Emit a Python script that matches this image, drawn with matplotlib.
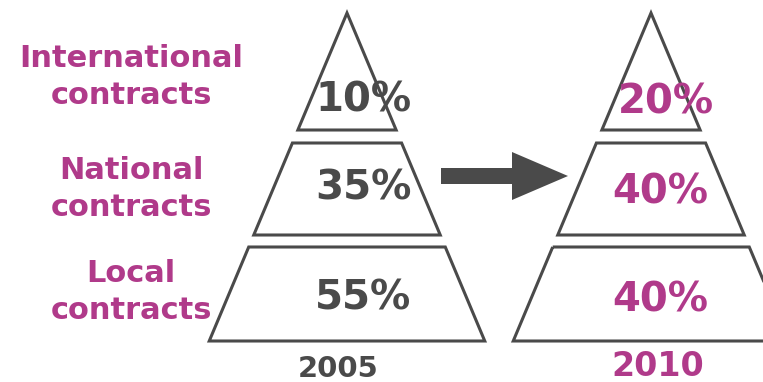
import matplotlib
matplotlib.use("Agg")
import matplotlib.pyplot as plt
from matplotlib.patches import Polygon

# data
categories = ["International\ncontracts", "National\ncontracts", "Local\ncontracts"]
years = ["2005", "2010"]
share_2005 = [10, 35, 55]
share_2010 = [20, 40, 40]

# layout (pixel coords, y down)
W, H = 763, 382
GREY = "#4a4a4a"
PINK = "#b03a8a"
apex_x = [347, 651]
apex_y = 13
slope = 0.42
tiers = [(13, 130), (143, 235), (247, 341)]
pct_dx = [[17, 16, 16], [15, 9, 9]]
pct_y = [[100, 188, 298], [103, 192, 301]]
label_y = [77, 189, 292]
year_y = [369, 367]


def draw_pyramid(ax, cx, values, dx, ys, color):
    for (y0, y1), v, ox, ty in zip(tiers, values, dx, ys):
        h0 = (y0 - apex_y) * slope
        h1 = (y1 - apex_y) * slope
        pts = [(cx - h0, y0), (cx + h0, y0), (cx + h1, y1), (cx - h1, y1)]
        ax.add_patch(Polygon(pts, closed=True, fill=False, edgecolor=GREY,
                             lw=2.2, joinstyle='miter'))
        ax.text(cx + ox, ty, f"{v}%", ha='center', va='center',
                fontsize=29, fontweight='bold', color=color)


fig = plt.figure(figsize=(W / 100, H / 100), dpi=100)
ax = fig.add_axes([0, 0, 1, 1])
ax.set_xlim(0, W)
ax.set_ylim(H, 0)
ax.axis('off')

draw_pyramid(ax, apex_x[0], share_2005, pct_dx[0], pct_y[0], GREY)
draw_pyramid(ax, apex_x[1], share_2010, pct_dx[1], pct_y[1], PINK)

for lab, y in zip(categories, label_y):
    ax.text(131, y, lab, ha='center', va='center', fontsize=22,
            fontweight='bold', color=PINK, linespacing=1.38)

ax.text(apex_x[0] - 9, year_y[0], years[0], ha='center', va='center',
        fontsize=21, fontweight='bold', color=GREY)
ax.text(apex_x[1] + 7, year_y[1], years[1], ha='center', va='center',
        fontsize=24, fontweight='bold', color=PINK)

ax.arrow(441, 176, 127, 0, width=16, head_width=48, head_length=56,
         length_includes_head=True, color=GREY, lw=0)

fig.savefig("out.png", dpi=100)
